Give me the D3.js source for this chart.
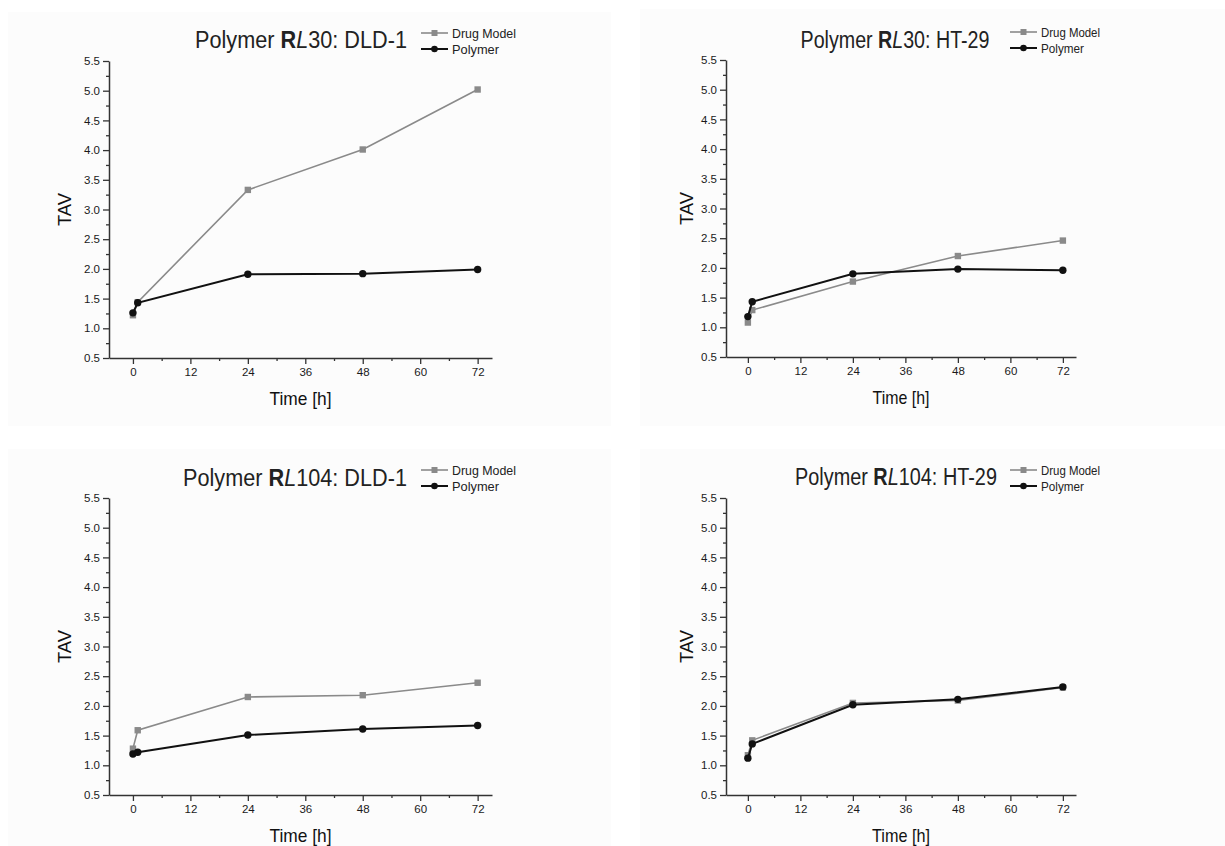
<!DOCTYPE html>
<html>
<head>
<meta charset="utf-8">
<script src="https://cdn.jsdelivr.net/npm/d3@7"></script>
<style>
  body { margin: 0; background: #fff; }
  svg { display: block; font-family: "Liberation Sans", Arial, sans-serif; }
</style>
</head>
<body>
<script>
// Datos de cada panel
const tiempos = [0, 1, 24, 48, 72];
const polimeros = ["30", "30", "104", "104"];
const lineasCelulares = ["DLD-1", "HT-29", "DLD-1", "HT-29"];
const seriesNombres = ["Drug Model", "Polymer"];

const drugModel = [
  [1.22, 1.44, 3.33, 4.01, 5.02],
  [1.08, 1.29, 1.77, 2.20, 2.46],
  [1.28, 1.59, 2.15, 2.18, 2.39],
  [1.17, 1.42, 2.05, 2.09, 2.31]
];
const polymer = [
  [1.26, 1.43, 1.91, 1.92, 1.99],
  [1.18, 1.43, 1.90, 1.98, 1.96],
  [1.19, 1.22, 1.51, 1.61, 1.67],
  [1.12, 1.36, 2.02, 2.11, 2.32]
];

const ticksX = [0, 12, 24, 36, 48, 60, 72];
const ticksY = [0.5, 1.0, 1.5, 2.0, 2.5, 3.0, 3.5, 4.0, 4.5, 5.0, 5.5];

// Caja de cada panel en la página (los paneles de la derecha están algo comprimidos)
const layout = [
  { fondo: [8, 12, 603, 414], x0: 109, x1: 492, y0: 61, y1: 358, tituloX: 301, tituloY: 48, tituloW: 212,
    leyX: 421, leyY: 33, leyW: [64, 47], tavDx: 45, tavW: 33, timeW: 62 },
  { fondo: [640, 9, 585, 417], x0: 726, x1: 1076, y0: 60, y1: 357, tituloX: 895, tituloY: 48, tituloW: 189,
    leyX: 1010, leyY: 32, leyW: [59, 43], tavDx: 40, tavW: 33, timeW: 57 },
  { fondo: [8, 449, 603, 397], x0: 109, x1: 492, y0: 498, y1: 795, tituloX: 295, tituloY: 486, tituloW: 224,
    leyX: 421, leyY: 470, leyW: [64, 47], tavDx: 45, tavW: 33, timeW: 62 },
  { fondo: [640, 449, 585, 397], x0: 726, x1: 1076, y0: 498, y1: 795, tituloX: 896, tituloY: 485, tituloW: 202,
    leyX: 1010, leyY: 470, leyW: [59, 43], tavDx: 40, tavW: 33, timeW: 58 }
];

const colores = { "Drug Model": "#8a8a8a", "Polymer": "#111" };
const ejeColor = "#333";

const svg = d3.select("body")
  .append("svg")
  .attr("width", 1225)
  .attr("height", 846);

layout.forEach((L, i) => {
  svg.append("rect")
    .attr("x", L.fondo[0]).attr("y", L.fondo[1])
    .attr("width", L.fondo[2]).attr("height", L.fondo[3])
    .attr("fill", "#fcfcfc");

  const x = d3.scaleLinear().domain([-5, 75]).range([L.x0, L.x1]);
  const y = d3.scaleLinear().domain([0.5, 5.5]).range([L.y1, L.y0]);

  const g = svg.append("g");

  // Ticks menores
  const menoresY = d3.range(0.75, 5.5, 0.5);
  const menoresX = d3.range(6, 72, 12);
  g.append("g")
    .attr("transform", `translate(${L.x0},0)`)
    .call(d3.axisLeft(y).tickValues(menoresY).tickSize(3).tickFormat(""))
    .call(a => a.select(".domain").remove())
    .call(a => a.selectAll("line").attr("stroke", ejeColor).attr("stroke-width", 1.3));
  g.append("g")
    .attr("transform", `translate(0,${L.y1})`)
    .call(d3.axisBottom(x).tickValues(menoresX).tickSize(3).tickFormat(""))
    .call(a => a.select(".domain").remove())
    .call(a => a.selectAll("line").attr("stroke", ejeColor).attr("stroke-width", 1.3));

  // Ejes principales
  const ejeY = g.append("g")
    .attr("transform", `translate(${L.x0},0)`)
    .call(d3.axisLeft(y).tickValues(ticksY).tickSize(6).tickSizeOuter(0).tickPadding(3).tickFormat(d3.format(".1f")));
  const ejeX = g.append("g")
    .attr("transform", `translate(0,${L.y1})`)
    .call(d3.axisBottom(x).tickValues(ticksX).tickSize(6).tickSizeOuter(0).tickPadding(4));
  [ejeY, ejeX].forEach(e => {
    e.select(".domain").attr("stroke", ejeColor).attr("stroke-width", 1.5);
    e.selectAll("line").attr("stroke", ejeColor).attr("stroke-width", 1.3);
    e.selectAll("text").attr("fill", "#1a1a1a").style("font-size", "11.5px")
      .style("font-family", "'Liberation Sans', Arial, sans-serif");
  });

  // Etiquetas de ejes
  g.append("text")
    .attr("transform", `translate(${L.x0 - L.tavDx},${(L.y0 + L.y1) / 2}) rotate(-90)`)
    .attr("text-anchor", "middle")
    .attr("dy", "0.35em")
    .attr("fill", "#111")
    .attr("textLength", L.tavW)
    .attr("lengthAdjust", "spacingAndGlyphs")
    .style("font-size", "19px")
    .text("TAV");
  g.append("text")
    .attr("x", (L.x0 + L.x1) / 2)
    .attr("y", L.y1 + 47)
    .attr("text-anchor", "middle")
    .attr("fill", "#111")
    .attr("textLength", L.timeW)
    .attr("lengthAdjust", "spacingAndGlyphs")
    .style("font-size", "19px")
    .text("Time [h]");

  // Título: se escala en horizontal para igualar el ancho del original
  const t = g.append("text")
    .attr("text-anchor", "middle")
    .attr("fill", "#222")
    .style("font-size", "24px");
  t.append("tspan").text("Polymer ");
  t.append("tspan").style("font-weight", "bold").text("R");
  t.append("tspan").style("font-style", "italic").text("L");
  t.append("tspan").text(`${polimeros[i]}: ${lineasCelulares[i]}`);
  const anchoTitulo = t.node().getBBox().width;
  t.attr("transform", `translate(${L.tituloX},${L.tituloY}) scale(${L.tituloW / anchoTitulo},1)`);

  // Series
  const datos = [
    { nombre: seriesNombres[0], valores: drugModel[i] },
    { nombre: seriesNombres[1], valores: polymer[i] }
  ];
  const linea = d3.line().x((d, j) => x(tiempos[j])).y(d => y(d));

  datos.forEach(s => {
    const color = colores[s.nombre];
    g.append("path")
      .datum(s.valores)
      .attr("d", linea)
      .attr("fill", "none")
      .attr("stroke", color)
      .attr("stroke-width", s.nombre === "Polymer" ? 2 : 1.6);
    if (s.nombre === "Polymer") {
      g.selectAll(null).data(s.valores).join("circle")
        .attr("cx", (d, j) => x(tiempos[j]))
        .attr("cy", d => y(d))
        .attr("r", 3.7)
        .attr("fill", color);
    } else {
      g.selectAll(null).data(s.valores).join("rect")
        .attr("x", (d, j) => x(tiempos[j]) - 3.2)
        .attr("y", d => y(d) - 3.2)
        .attr("width", 6.4).attr("height", 6.4)
        .attr("fill", color);
    }
  });

  // Leyenda
  datos.forEach((s, k) => {
    const ly = L.leyY + k * 16;
    const color = colores[s.nombre];
    g.append("line")
      .attr("x1", L.leyX).attr("x2", L.leyX + 27)
      .attr("y1", ly).attr("y2", ly)
      .attr("stroke", color)
      .attr("stroke-width", s.nombre === "Polymer" ? 2 : 1.6);
    if (s.nombre === "Polymer") {
      g.append("circle").attr("cx", L.leyX + 13.5).attr("cy", ly).attr("r", 3.3).attr("fill", color);
    } else {
      g.append("rect").attr("x", L.leyX + 10.5).attr("y", ly - 3).attr("width", 6).attr("height", 6).attr("fill", color);
    }
    g.append("text")
      .attr("x", L.leyX + 31)
      .attr("y", ly)
      .attr("dy", "0.35em")
      .attr("fill", "#222")
      .attr("textLength", L.leyW[k])
      .attr("lengthAdjust", "spacingAndGlyphs")
      .style("font-size", "13px")
      .text(s.nombre);
  });
});
</script>
</body>
</html>
